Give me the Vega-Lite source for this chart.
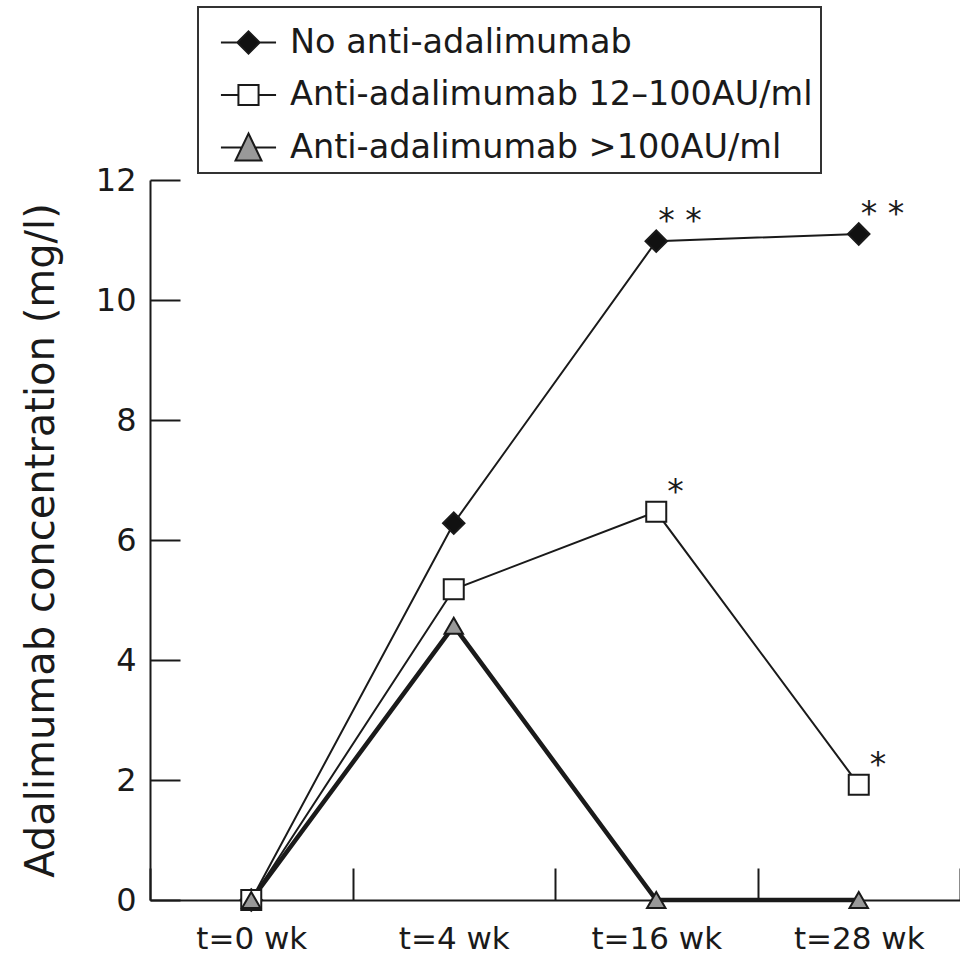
{
  "$schema": "https://vega.github.io/schema/vega-lite/v6.json",
  "width": 810,
  "height": 720,
  "autosize": {"type": "none"},
  "padding": {"left": 150, "top": 180, "right": 0, "bottom": 58},
  "background": "white",
  "data": {
    "values": [
      {"series": "No anti-adalimumab", "time": "t=0 wk", "value": 0, "sig": ""},
      {"series": "No anti-adalimumab", "time": "t=4 wk", "value": 6.28, "sig": ""},
      {"series": "No anti-adalimumab", "time": "t=16 wk", "value": 10.98, "sig": "* *"},
      {"series": "No anti-adalimumab", "time": "t=28 wk", "value": 11.1, "sig": "* *"},
      {"series": "Anti-adalimumab 12–100AU/ml", "time": "t=0 wk", "value": 0, "sig": ""},
      {"series": "Anti-adalimumab 12–100AU/ml", "time": "t=4 wk", "value": 5.18, "sig": ""},
      {"series": "Anti-adalimumab 12–100AU/ml", "time": "t=16 wk", "value": 6.47, "sig": "*"},
      {"series": "Anti-adalimumab 12–100AU/ml", "time": "t=28 wk", "value": 1.92, "sig": "*"},
      {"series": "Anti-adalimumab >100AU/ml", "time": "t=0 wk", "value": 0, "sig": ""},
      {"series": "Anti-adalimumab >100AU/ml", "time": "t=4 wk", "value": 4.57, "sig": ""},
      {"series": "Anti-adalimumab >100AU/ml", "time": "t=16 wk", "value": 0, "sig": ""},
      {"series": "Anti-adalimumab >100AU/ml", "time": "t=28 wk", "value": 0, "sig": ""}
    ]
  },
  "encoding": {
    "x": {
      "field": "time",
      "type": "nominal",
      "scale": {"type": "band", "domain": ["t=0 wk", "t=4 wk", "t=16 wk", "t=28 wk"], "paddingInner": 0, "paddingOuter": 0},
      "axis": {"title": null, "labelAngle": 0, "tickBand": "extent", "tickSize": -32, "labelPadding": 56, "labelBaseline": "top"}
    },
    "y": {
      "field": "value",
      "type": "quantitative",
      "scale": {"domain": [0, 12], "nice": false, "zero": true},
      "axis": {"title": "Adalimumab concentration (mg/l)", "values": [0, 2, 4, 6, 8, 10, 12], "tickSize": -30, "labelPadding": 44, "labelFontSize": 32, "titleFontSize": 40, "titlePadding": 34}
    }
  },
  "layer": [
    {
      "transform": [{"filter": "datum.series != 'Anti-adalimumab >100AU/ml'"}],
      "mark": {"type": "line", "color": "#1a1a1a", "strokeWidth": 2},
      "encoding": {"detail": {"field": "series"}}
    },
    {
      "transform": [{"filter": "datum.series == 'Anti-adalimumab >100AU/ml'"}],
      "mark": {"type": "line", "color": "#1a1a1a", "strokeWidth": 4.5},
      "encoding": {"detail": {"field": "series"}}
    },
    {
      "mark": {"type": "point", "filled": true, "stroke": "#1a1a1a", "strokeWidth": 2, "opacity": 1},
      "encoding": {
        "shape": {
          "field": "series",
          "type": "nominal",
          "scale": {"domain": ["No anti-adalimumab", "Anti-adalimumab 12–100AU/ml", "Anti-adalimumab >100AU/ml"], "range": ["diamond", "square", "triangle-up"]},
          "legend": null
        },
        "fill": {
          "field": "series",
          "type": "nominal",
          "scale": {"domain": ["No anti-adalimumab", "Anti-adalimumab 12–100AU/ml", "Anti-adalimumab >100AU/ml"], "range": ["#111111", "#ffffff", "#999999"]},
          "legend": null
        },
        "size": {
          "field": "series",
          "type": "nominal",
          "scale": {"domain": ["No anti-adalimumab", "Anti-adalimumab 12–100AU/ml", "Anti-adalimumab >100AU/ml"], "range": [460, 340, 700]},
          "legend": null
        }
      }
    },
    {
      "transform": [{"filter": "datum.value < -100"}],
      "mark": {"type": "point", "filled": true, "stroke": "#1a1a1a", "strokeWidth": 2, "opacity": 1},
      "encoding": {
        "shape": {
          "field": "series",
          "type": "nominal",
          "scale": {
            "domain": ["No anti-adalimumab", "Anti-adalimumab 12–100AU/ml", "Anti-adalimumab >100AU/ml"],
            "range": [
              "M-1.04,0H-0.42M0.42,0H1.04M-0.42,0L0,-0.42L0.42,0L0,0.42Z",
              "M-1.04,0H-0.38M0.38,0H1.04M-0.38,-0.38H0.38V0.38H-0.38Z",
              "M-1.04,0H-0.26M0.26,0H1.04M0,-0.53L0.49,0.49H-0.49Z"
            ]
          },
          "legend": {"title": null, "labelExpr": "datum.label + '\u00a0\u00a0'", "encode": {"symbols": {"update": {"stroke": {"value": "#1a1a1a"}, "strokeWidth": {"value": 2}, "opacity": {"value": 1}}}}}
        },
        "fill": {
          "field": "series",
          "type": "nominal",
          "scale": {"domain": ["No anti-adalimumab", "Anti-adalimumab 12–100AU/ml", "Anti-adalimumab >100AU/ml"], "range": ["#111111", "#ffffff", "#999999"]},
          "legend": {"title": null, "labelExpr": "datum.label + '\u00a0\u00a0'", "encode": {"symbols": {"update": {"stroke": {"value": "#1a1a1a"}, "strokeWidth": {"value": 2}, "opacity": {"value": 1}}}}}
        }
      }
    },
    {
      "transform": [{"filter": "datum.sig == '* *'"}],
      "mark": {"type": "text", "align": "left", "baseline": "alphabetic", "dx": 2, "dy": -9, "fontSize": 33, "font": "DejaVu Sans", "color": "#1a1a1a"},
      "encoding": {"text": {"field": "sig"}}
    },
    {
      "transform": [{"filter": "datum.sig == '*'"}],
      "mark": {"type": "text", "align": "left", "baseline": "alphabetic", "dx": 11, "dy": -9, "fontSize": 33, "font": "DejaVu Sans", "color": "#1a1a1a"},
      "encoding": {"text": {"field": "sig"}}
    }
  ],
  "resolve": {"scale": {"shape": "independent", "fill": "independent"}},
  "config": {
    "view": {"stroke": null},
    "font": "DejaVu Sans",
    "axis": {
      "labelFont": "DejaVu Sans",
      "labelFontSize": 31,
      "labelColor": "#1a1a1a",
      "domainColor": "#1a1a1a",
      "tickColor": "#1a1a1a",
      "domainWidth": 2,
      "tickWidth": 2,
      "grid": false,
      "titleFont": "DejaVu Sans",
      "titleFontWeight": "normal",
      "titleColor": "#1a1a1a"
    },
    "legend": {
      "orient": "none",
      "legendX": 48,
      "legendY": -173,
      "strokeColor": "#333333",
      "strokeWidth": 2,
      "padding": 8,
      "symbolSize": 2809,
      "symbolStrokeWidth": 2,
      "symbolStrokeColor": "#1a1a1a",
      "symbolOpacity": 1,
      "symbolOffset": 15,
      "labelOffset": 14,
      "labelFont": "DejaVu Sans",
      "labelFontSize": 33.5,
      "labelColor": "#1a1a1a",
      "labelLimit": 1000,
      "rowPadding": 8.5
    }
  }
}
